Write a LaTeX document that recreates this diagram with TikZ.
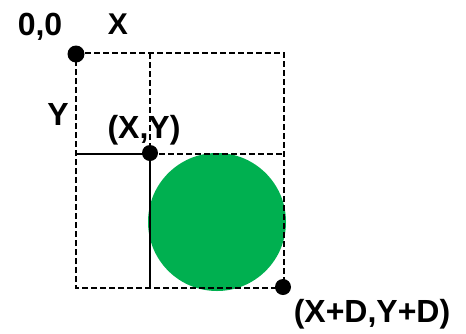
\documentclass[tikz,border=0pt]{standalone}
\usepackage{fontspec}
\setmainfont{Liberation Sans}
\definecolor{circgreen}{HTML}{00B050}
\begin{document}
\begin{tikzpicture}[x=1pt,y=-1pt,
  dashline/.style={line width=2.6pt,dash pattern=on 6pt off 3pt},
  solidline/.style={line width=2.6pt},
  dot/.style={circle,fill=black,inner sep=0pt,minimum size=16pt},
  lbl/.style={font=\bfseries\fontsize{32}{36}\selectfont,inner sep=0pt}]
\useasboundingbox (0,0) rectangle (466,333);
% corners
\coordinate (tl) at (76,53);
\coordinate (tm) at (150,53);
\coordinate (tr) at (284,53);
\coordinate (ml) at (76,154);
\coordinate (mm) at (150,154);
\coordinate (mr) at (284,154);
\coordinate (bl) at (76,288);
\coordinate (bm) at (150,288);
\coordinate (br) at (284,288);
% green circle
\fill[circgreen] (217,222) circle (69);
% dashed lines
\draw[dashline] (tl) -- (tr) -- (br) -- (bl) -- (tl);
\draw[dashline] (tm) -- (mm);
\draw[dashline] (mm) -- (mr);
% solid lines
\draw[solidline] (ml) -- (mm) -- (bm);
% dots
\node[dot,minimum size=17pt] (o) at (76,54) {};
\node[dot] (xy) at (150,153) {};
\node[dot] (xd) at (283,287) {};
% labels
\node[lbl] (l00) at (40,27) {0,0};
\node[lbl,font=\bfseries\fontsize{30}{34}\selectfont] (lx) at (118,24) {X};
\node[lbl] (ly) at (58,114) {Y};
\node[lbl] (lxy) at (144,130) {(X,Y)};
\node[lbl] (lxd) at (372,314) {(X+D,Y+D)};
\end{tikzpicture}
\end{document}
